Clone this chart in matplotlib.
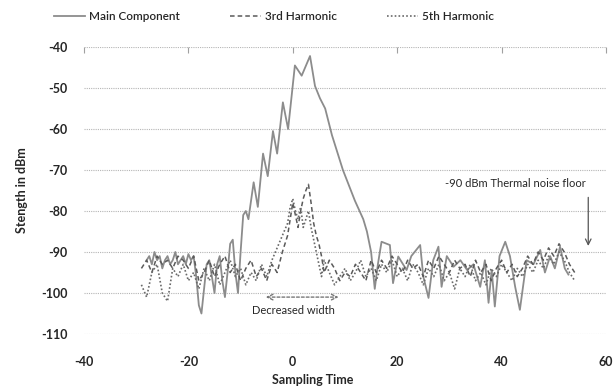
import matplotlib
matplotlib.use("Agg")
import matplotlib.pyplot as plt

plt.rcParams['font.family'] = ['Lato', 'DejaVu Sans']
plt.rcParams['axes.unicode_minus'] = False

# main component: noise floor, stepped rise to the peak near 0, fall, noise again
main_x = [-28, -27.5, -27, -26.5, -26, -25.5, -25, -24.5, -24, -23.5, -23, -22.5,
          -22, -21.5, -21, -20.5, -20, -19.5, -19, -18.5, -18, -17.5, -17, -16.5,
          -16, -15.5, -15, -14.5, -14, -13.5, -13, -12.5, -12, -11.5, -11, -10.5,
          -10, -9.5, -9, -8.5, -7.5, -6.7, -5.7, -4.8, -3.8, -3.0, -1.9, -0.9,
          0.4, 1.7, 3.3, 4.25, 5.2, 6.2, 7.5, 9.6, 11.9, 13.5, 14.2, 15.0,
          15.7, 16.3, 17.0, 18.6, 19.2, 20.2, 21.8, 22.7, 24.4, 25.0, 26.0, 26.9,
          27.9, 28.5, 29.5, 30.8, 32.1, 33.4, 34.6, 35.9, 36.8, 37.5, 38.1, 38.7,
          39.6, 40.7, 41.6, 42.6, 43.5, 44.1, 44.8, 46.1, 47.4, 48.3, 49.3, 50.2,
          51.2, 52.1, 52.8]
main_y = [-92, -91, -93, -90, -92, -91, -94, -92, -91, -93, -92, -90,
          -93, -92, -91, -93, -90.5, -92, -91, -96, -103, -105, -99, -93,
          -92, -96, -100, -93, -91, -97, -101, -95, -88, -87, -95, -100,
          -90, -81, -80, -82, -73, -79, -66, -71.5, -60.5, -66, -53.5, -60,
          -44.5, -47, -42.2, -49.5, -52.5, -55, -61.5, -70, -77.5, -82, -85, -90,
          -99, -93, -87.5, -88.3, -97.6, -91.1, -94.4, -91, -88.3, -96, -101.2, -92,
          -88.7, -98.5, -91, -93.6, -92, -94.4, -93, -98.5, -92, -102.4, -94.4, -103.3,
          -91, -87.5, -91, -98.5, -104.1, -98.5, -92, -93, -89.5, -95, -91, -94,
          -88.7, -94, -95.5]

# 3rd and 5th harmonic share one sampling grid
harm_x = [-29, -28, -27, -26, -25, -24, -23, -22, -21, -20, -19, -18, -17, -16,
          -15, -14, -13, -12, -11, -10, -9, -8, -7, -6, -5, -4, -3, -2, -1, -0.5,
          0, 0.5, 1, 1.5, 2, 2.5, 3, 3.5, 4, 4.5, 5, 5.5, 6, 7, 8, 9, 10, 11, 12,
          13, 14, 15, 16, 17, 18, 19, 20, 21, 22, 23, 24, 25, 26, 27, 28, 29, 30,
          31, 32, 33, 34, 35, 36, 37, 38, 39, 40, 41, 42, 43, 44, 45, 46, 47, 48,
          49, 50, 51, 52, 53, 54]
third_y = [-94, -92, -95, -91, -93, -92, -94, -91, -92, -94, -91, -97, -95, -92,
           -96, -93, -91, -95, -93, -97, -94, -92, -96, -94, -97, -93, -95, -90, -86, -82,
           -78, -81, -84, -80, -77, -75, -73.5, -78, -83, -86, -88, -91, -95, -92, -94, -97, -95, -96, -93,
           -95, -97, -92, -95, -92, -94, -91, -93, -95, -92, -94, -93, -96, -92, -94, -91, -93, -95,
           -92, -94, -93, -96, -92, -95, -93, -97, -94, -92, -95, -93, -96, -94, -91, -93, -90, -92,
           -89, -91, -88, -90, -93, -95]
fifth_y = [-98, -101, -95, -93, -100, -102, -94, -96, -93, -97, -95, -99, -94, -97,
           -93, -98, -95, -92, -96, -94, -98, -95, -97, -93, -96, -92, -89, -86, -83, -79,
           -77, -80, -82, -79, -84, -82, -80, -84, -87, -90, -93, -96, -92, -95, -98, -96, -94, -97, -95,
           -92, -96, -94, -97, -93, -95, -92, -96, -94, -97, -93, -95, -98, -94, -96, -93, -97, -95,
           -99, -94, -96, -93, -97, -95, -98, -94, -96, -93, -95, -97, -94, -96, -93, -95, -92, -94,
           -91, -93, -90, -92, -95, -97]

x_ticks = [-40, -20, 0, 20, 40, 60]
y_ticks = [-110, -100, -90, -80, -70, -60, -50, -40]
text_color = '#262626'

fig = plt.figure(figsize=(6.14, 3.91), dpi=100)
ax = fig.add_axes([84 / 614, 1 - 334 / 391, 522 / 614, 287 / 391])

ax.plot(main_x, main_y, color='#8c8c8c', lw=1.3, label='Main Component')
ax.plot(harm_x, third_y, color='#5a5a5a', lw=1.1, ls=(0, (3, 2)), label='3rd Harmonic')
ax.plot(harm_x, fifth_y, color='#6a6a6a', lw=1.2, ls=(0, (1, 1.3)), label='5th Harmonic')

ax.set_xlim(-40, 60)
ax.set_ylim(-110, -40)
ax.set_xticks(x_ticks)
ax.set_yticks(y_ticks)
ax.grid(axis='y', color='#b5b5b5', lw=0.8, ls=(0, (1, 1)))
ax.grid(axis='x', visible=False)
for s in ax.spines.values():
    s.set_visible(False)

ax.tick_params(axis='x', top=True, bottom=False, labeltop=False, labelbottom=True,
               direction='in', length=4, width=0.8, color='#a0a0a0', pad=16,
               labelsize=9, labelcolor=text_color)
ax.tick_params(axis='y', length=0, pad=12, labelsize=9, labelcolor=text_color)
for lbl in ax.get_xticklabels() + ax.get_yticklabels():
    lbl.set_fontweight('bold')

ax.set_ylabel('Stength in dBm', fontsize=9, fontweight='bold', color=text_color)
ax.yaxis.set_label_coords(-0.107, 0.5)
ax.set_xlabel('Sampling Time', fontsize=9, fontweight='bold', color=text_color)
ax.xaxis.set_label_coords((313 - 84) / 522, -0.14)

# decreased-width marker under the harmonic peaks
ax.annotate('', xy=(9.3, -101), xytext=(-5.7, -101),
            arrowprops=dict(arrowstyle='<->', color='#777777', lw=1.0, ls=(0, (2, 1.5))))
ax.text(0.2, -104.2, 'Decreased width', ha='center', va='center', fontsize=8,
        color=text_color)

# thermal noise floor callout
ax.text(29.2, -73.2, '-90 dBm Thermal noise floor', ha='left', va='center', fontsize=8,
        color=text_color, clip_on=False)
ax.annotate('', xy=(56.6, -89.2), xytext=(56.6, -76),
            arrowprops=dict(arrowstyle='->', color='#555555', lw=0.9))

fig.legend(loc='center', bbox_to_anchor=(274 / 614, 1 - 17 / 391), ncol=3, frameon=False,
           prop={'size': 8.5, 'weight': 'semibold'}, handlelength=2.6, columnspacing=4.3,
           handletextpad=0.3, labelcolor=text_color)

fig.savefig('out.png', dpi=100, facecolor='white')
